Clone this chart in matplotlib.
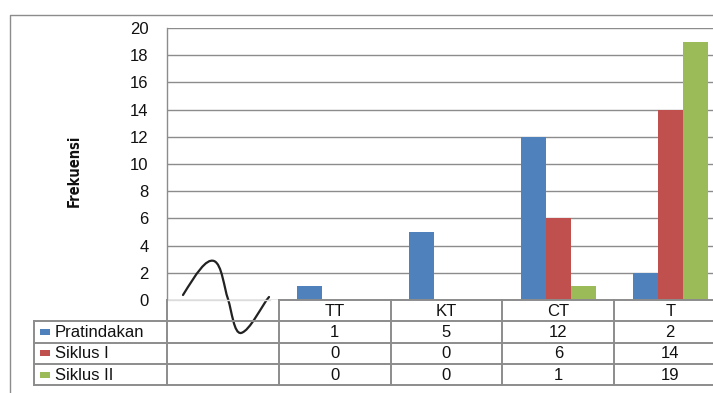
import matplotlib
matplotlib.use("Agg")
import matplotlib.pyplot as plt
from matplotlib import font_manager as fm
from matplotlib.font_manager import FontProperties
from matplotlib.path import Path
from matplotlib.patches import PathPatch, Rectangle
import numpy as np

plt.rcParams["font.family"] = ["Liberation Sans", "DejaVu Sans"]

# frequency per category for each phase
categories = ["TT", "KT", "CT", "T"]
series_names = ["Pratindakan", "Siklus I", "Siklus II"]
pratindakan = [1, 5, 12, 2]
siklus_1 = [0, 0, 6, 14]
siklus_2 = [0, 0, 1, 19]
series = [pratindakan, siklus_1, siklus_2]
colors = ["#4F81BD", "#C0504D", "#9BBB59"]
yticks = list(range(0, 21, 2))

W, H = 713, 393
GRID = "#8c8c8c"


def narrow_bold():
    # pick a narrow bold face for the axis title if one is installed
    names = {f.name for f in fm.fontManager.ttflist}
    if "Liberation Sans Narrow" in names:
        return dict(family="Liberation Sans Narrow", fontsize=11)
    path = fm.findfont(FontProperties(family="DejaVu Sans", weight="bold",
                                      stretch="condensed"), fallback_to_default=True)
    if "Condensed" in path:
        return dict(family="DejaVu Sans", fontstretch="condensed", fontsize=10.5)
    return dict(family="Liberation Sans", fontsize=10.5)


fig = plt.figure(figsize=(W / 100, H / 100), dpi=100)

# plot area geometry in pixels (first slot is left empty for the break mark)
x0, col_w = 166.7, 111.9
y_top, y_bot = 28.0, 300.0
n_slots = len(categories) + 1
ax = fig.add_axes([x0 / W, (H - y_bot) / H, n_slots * col_w / W, (y_bot - y_top) / H])

bar_w = 0.223
pos = np.arange(1, n_slots)
for i, (vals, c) in enumerate(zip(series, colors)):
    ax.bar(pos + (i - 1) * bar_w, vals, width=bar_w, color=c, linewidth=0, zorder=3)

ax.set_xlim(-0.5, n_slots - 0.5)
ax.set_ylim(0, 20)
ax.set_yticks(yticks)
ax.set_xticks([])
ax.yaxis.grid(True, color=GRID, linewidth=1.0, zorder=0)
ax.tick_params(axis="y", length=0, pad=13, labelsize=12, labelcolor="#111111")
for s in ["top", "right", "bottom"]:
    ax.spines[s].set_visible(False)
ax.spines["left"].set_color(GRID)
ax.spines["left"].set_linewidth(1.0)
ax.set_facecolor("none")

# overlay in pixel coordinates for frame, data table and the break mark
ov = fig.add_axes([0, 0, 1, 1], zorder=5)
ov.set_xlim(0, W)
ov.set_ylim(H, 0)
ov.axis("off")
ov.patch.set_visible(False)

# outer chart frame
ov.plot([10, 10, W + 5], [H + 5, 15, 15], color=GRID, lw=1.0)

# faint baseline under the empty slot
ov.plot([x0, 270], [y_bot, y_bot], color="#dcdcdc", lw=1.0)

row_h = 21.3
rows = [y_bot + k * row_h for k in range(5)]
tab_left = 34.3
edges = [x0 + k * col_w for k in range(n_slots + 1)]
lw_t = 1.4

# horizontal rules
ov.plot([edges[1], W + 5], [rows[0], rows[0]], color=GRID, lw=lw_t)
for yy in rows[1:]:
    ov.plot([tab_left, W + 5], [yy, yy], color=GRID, lw=lw_t)
# vertical rules
ov.plot([tab_left, tab_left], [rows[1], rows[4]], color=GRID, lw=lw_t)
ov.plot([edges[0], edges[0]], [y_bot, rows[4]], color=GRID, lw=lw_t)
for xx in edges[1:-1]:
    ov.plot([xx, xx], [rows[0], rows[4]], color=GRID, lw=lw_t)

fs = 12
for k, cat in enumerate(categories):
    cx = (edges[k + 1] + edges[k + 2]) / 2
    ov.text(cx, (rows[0] + rows[1]) / 2 + 0.5, cat, ha="center", va="center",
            fontsize=fs, color="#111111")
    for r, vals in enumerate(series):
        ov.text(cx, (rows[r + 1] + rows[r + 2]) / 2 + 0.5, str(vals[k]),
                ha="center", va="center", fontsize=fs, color="#111111")

for r, (name, c) in enumerate(zip(series_names, colors)):
    yc = (rows[r + 1] + rows[r + 2]) / 2
    ov.add_patch(Rectangle((40, yc - 3), 10, 6, color=c, lw=0))
    ov.text(55, yc + 0.5, name, ha="left", va="center", fontsize=fs, color="#111111")

# axis break mark
verts = [(183, 295), (196, 274), (206, 258), (214, 261),
         (222, 264), (224, 288), (228, 299),
         (232, 312), (234, 334), (241, 333),
         (250, 331), (262, 305), (269, 297)]
codes = [Path.MOVETO] + [Path.CURVE4] * 12
ov.add_patch(PathPatch(Path(verts, codes), fill=False, color="#222222", lw=1.6,
                       capstyle="round"))

fig.text(74 / W, 1 - 170.5 / H, "Frekuensi", rotation=90, ha="center", va="center",
         fontweight="bold", color="#111111", **narrow_bold())

fig.savefig("out.png", dpi=100)
